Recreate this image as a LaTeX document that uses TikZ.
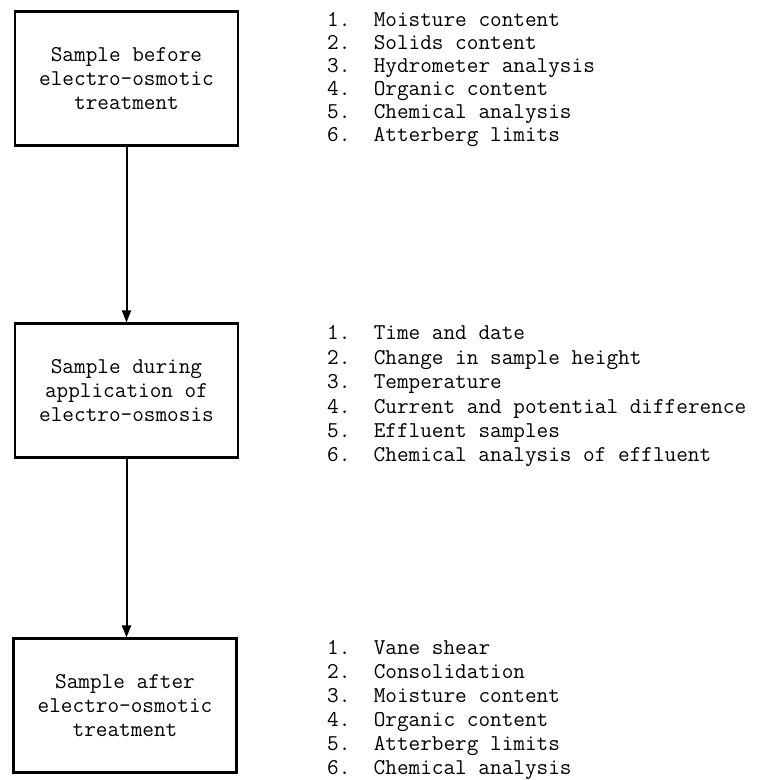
\documentclass[tikz,border=0pt]{standalone}
\usepackage{fontspec}
\usetikzlibrary{arrows.meta}
% typewriter face set a little heavier than the default mono
\newcommand\typewriterfont[1]{\fontsize{22.6}{#1}\selectfont\ttfamily\addfontfeatures{FakeBold=0.6}}
\begin{document}
\begin{tikzpicture}[x=1pt,y=-1pt,
  stagebox/.style={draw, line width=2.2pt, minimum width=223pt, minimum height=134pt,
    align=center, inner sep=0pt, font=\typewriterfont{23.6}},
  checklist/.style={anchor=west, align=left, inner sep=0pt, font=\typewriterfont{#1}},
  flow/.style={line width=2pt, -{Triangle[length=12pt,width=9pt]}}]
\useasboundingbox (0,0) rectangle (765,780);

% the three stages of the test
\node[stagebox] (before) at (126.5,78.5) {Sample before\\electro-osmotic\\treatment};
\node[stagebox] (during) at (126.5,390.5) {Sample during\\application of\\electro-osmosis};
\node[stagebox] (after) at (125,705.5) {Sample after\\electro-osmotic\\treatment};

% measurements taken at each stage
\node[checklist=23] (beforelist) at (327,80) {1.~~Moisture content\\2.~~Solids content\\3.~~Hydrometer analysis\\4.~~Organic content\\5.~~Chemical analysis\\6.~~Atterberg limits};
\node[checklist=24.4] (duringlist) at (327,396.5) {1.~~Time and date\\2.~~Change in sample height\\3.~~Temperature\\4.~~Current and potential difference\\5.~~Effluent samples\\6.~~Chemical analysis of effluent};
\node[checklist=24] (afterlist) at (327,710) {1.~~Vane shear\\2.~~Consolidation\\3.~~Moisture content\\4.~~Organic content\\5.~~Atterberg limits\\6.~~Chemical analysis};

% flow between stages
\draw[flow] (before.south) -- (during.north);
\draw[flow] (during.south) -- (during.south |- after.north);
\end{tikzpicture}
\end{document}
